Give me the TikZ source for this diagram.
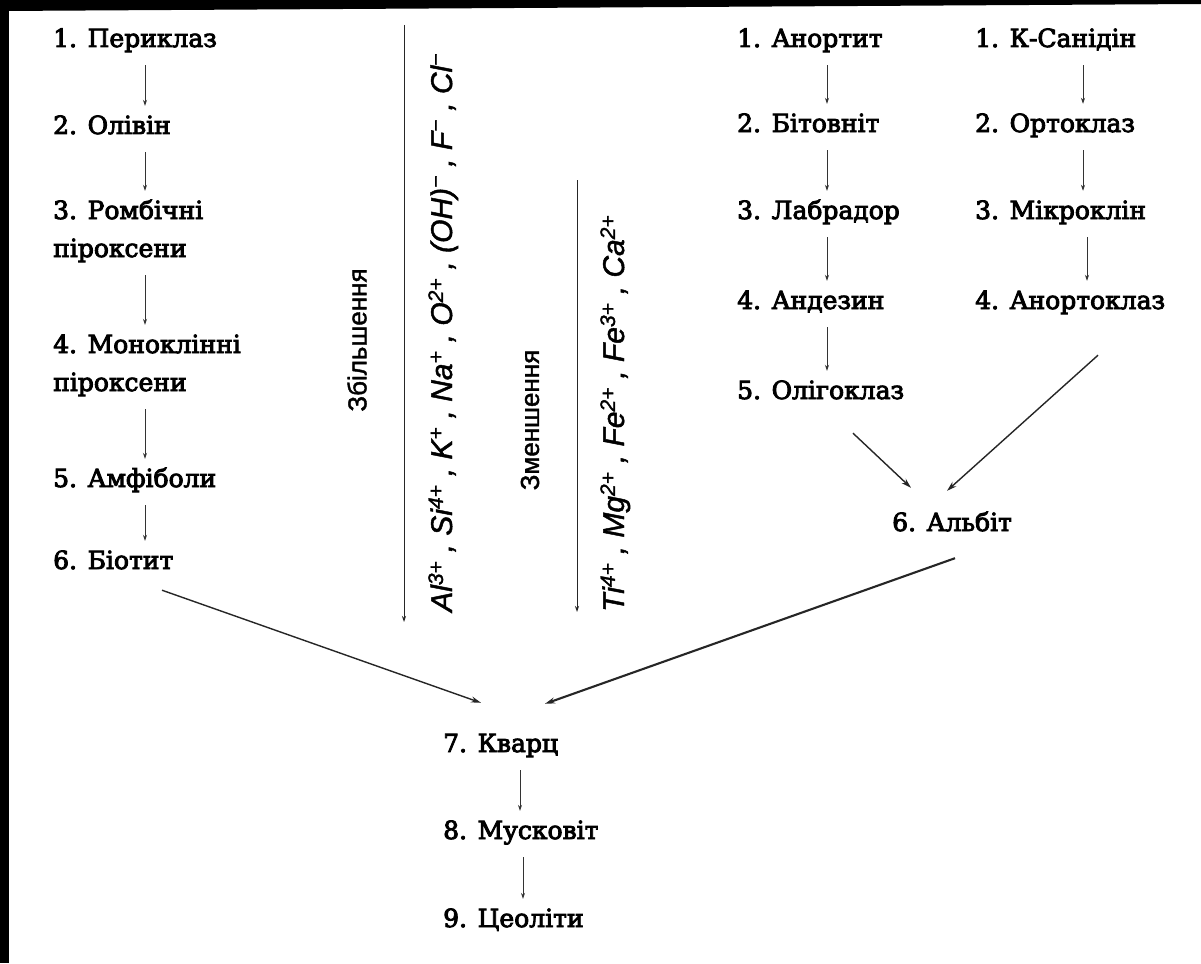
\documentclass[tikz,border=0pt]{standalone}
\usepackage{fontspec}
\setmainfont{DejaVu Serif}
\newfontfamily\heavyserif[FakeBold=3.5]{DejaVu Serif}
\newfontfamily\sansf[FakeBold=1.5]{Liberation Sans}
\usetikzlibrary{calc,arrows.meta}
\begin{document}
\begin{tikzpicture}[x=1pt,y=-1pt,
  lbl/.style={anchor=base west, inner sep=0pt, text height=20pt, text depth=6pt,
              font=\heavyserif\fontsize{25}{30}\selectfont, text=black},
  arr/.style={-{Stealth[length=6pt,width=4pt]}, line width=0.7pt, black!80,
              shorten <=12pt, shorten >=8pt},
  diag/.style={-{Stealth[length=10pt,width=6pt]}, line width=1.4pt, black!85},
  vline/.style={-{Stealth[length=6pt,width=4pt]}, line width=0.8pt, black!85},
  vtxt/.style={rotate=90, inner sep=0pt, font=\sansf\fontsize{26}{30}\selectfont, text=black},
  ion/.style={rotate=90, anchor=base west, inner sep=0pt,
              font=\sansf\itshape\fontsize{30}{34}\selectfont, text=black}]
\useasboundingbox (0,0) rectangle (1201,963);
\fill[white] (0,0) rectangle (1201,963);
% scan border
\fill[black] (0,0) -- (1201,0) -- (1201,4) -- (0,11) -- cycle;
\fill[black] (0,0) rectangle (9,963);

% column coordinates
\coordinate (cL) at (145,0);
\coordinate (cA) at (827,0);
\coordinate (cB) at (1083,0);
\coordinate (cK) at (520,0);

% left column
\node[lbl] (n1)  at (53,47)  {1. Периклаз};
\node[lbl] (n2)  at (53,134) {2. Олівін};
\node[lbl] (n3)  at (53,219) {3. Ромбічні};
\node[lbl] (n3b) at (53,257) {піроксени};
\node[lbl] (n4)  at (53,353) {4. Моноклінні};
\node[lbl] (n4b) at (53,391) {піроксени};
\node[lbl] (n5)  at (53,487) {5. Амфіболи};
\node[lbl] (n6)  at (53,569) {6. Біотит};

\draw[arr] (n1.south -| cL) -- (n2.north -| cL);
\draw[arr] (n2.south -| cL) -- (n3.north -| cL);
\draw[arr] (n3b.south -| cL) -- (n4.north -| cL);
\draw[arr] (n4b.south -| cL) -- (n5.north -| cL);
\draw[arr] (n5.south -| cL) -- (n6.north -| cL);

% plagioclase column
\node[lbl] (a1) at (737,47)  {1. Анортит};
\node[lbl] (a2) at (737,132) {2. Бітовніт};
\node[lbl] (a3) at (737,219) {3. Лабрадор};
\node[lbl] (a4) at (737,309) {4. Андезин};
\node[lbl] (a5) at (737,399) {5. Олігоклаз};

\draw[arr] (a1.south -| cA) -- (a2.north -| cA);
\draw[arr] (a2.south -| cA) -- (a3.north -| cA);
\draw[arr] (a3.south -| cA) -- (a4.north -| cA);
\draw[arr] (a4.south -| cA) -- (a5.north -| cA);

% K-feldspar column
\node[lbl] (b1) at (975,47)  {1. К-Санідін};
\node[lbl] (b2) at (975,132) {2. Ортоклаз};
\node[lbl] (b3) at (975,219) {3. Мікроклін};
\node[lbl] (b4) at (975,309) {4. Анортоклаз};

\draw[arr] (b1.south -| cB) -- (b2.north -| cB);
\draw[arr] (b2.south -| cB) -- (b3.north -| cB);
\draw[arr] ($(b3.south -| cB)+(4,0)$) -- ($(b4.north -| cB)+(4,0)$);

% albite
\node[lbl] (al) at (892,531) {6. Альбіт};
\draw[diag] ($(a5.south west)+(116,28)$) -- ($(al.north west)+(19,-23)$);
\draw[diag] ($(b4.south west)+(123,40)$) -- ($(al.north west)+(55,-20)$);

% bottom chain
\node[lbl] (kv) at (443,752) {7. Кварц};
\node[lbl] (mu) at (443,839) {8. Мусковіт};
\node[lbl] (ce) at (443,927) {9. Цеоліти};

\draw[diag] ($(n6.south west)+(109,15)$) -- ($(kv.north west)+(38,-29)$);
\draw[diag, line width=2.1pt] ($(al.south west)+(63,21)$) -- ($(kv.north west)+(102,-28)$);

\draw[arr] (kv.south -| cK) -- (mu.north -| cK);
\draw[arr] ($(mu.south -| cK)+(3,0)$) -- ($(ce.north -| cK)+(3,0)$);

% vertical trend arrows
\coordinate (l1s) at (404,25);
\coordinate (l1e) at (404,622);
\coordinate (l2s) at (577,180);
\coordinate (l2e) at (577,612);
\draw[vline] (l1s) -- (l1e);
\draw[vline] (l2s) -- (l2e);

\node[vtxt] (inc) at (357,340) {Збільшення};
\node[vtxt] (dec) at (530,420) {Зменшення};

\node[ion] (ions1) at (452,612) {Al\textsuperscript{3+} , Si\textsuperscript{4+} , K\textsuperscript{+} , Na\textsuperscript{+} , O\textsuperscript{2+} , (OH)\textsuperscript{−} , F\textsuperscript{−} , Cl\textsuperscript{−}};
\node[ion] (ions2) at (624,612) {Ti\textsuperscript{4+} , Mg\textsuperscript{2+} , Fe\textsuperscript{2+} , Fe\textsuperscript{3+} , Ca\textsuperscript{2+}};
\end{tikzpicture}
\end{document}
